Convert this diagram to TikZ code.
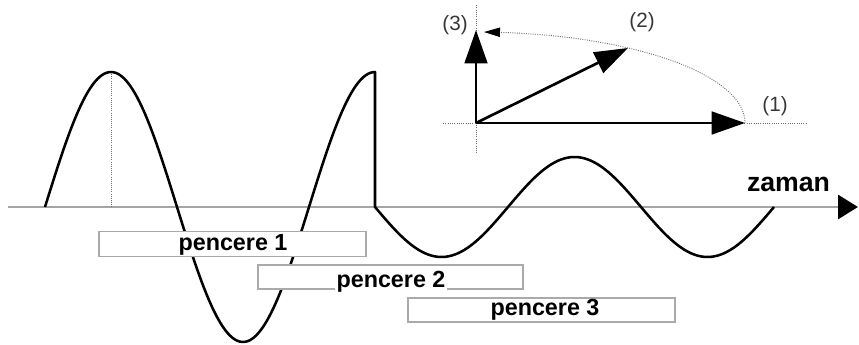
\documentclass[tikz,border=0pt]{standalone}
\usepackage{fontspec}
\setmainfont{Liberation Sans}
\usetikzlibrary{arrows.meta}
\definecolor{axisgray}{RGB}{165,165,165}
\definecolor{boxgray}{RGB}{170,170,170}
\definecolor{dotgray}{RGB}{110,110,110}
\definecolor{labelgray}{RGB}{55,55,55}
\tikzset{
  wave/.style={line width=1.9pt, black, line join=round},
  timeaxis/.style={line width=2.2pt, axisgray, -{Triangle[length=15pt,width=18pt,color=black]}},
  window/.style={draw=boxgray, line width=1.2pt, fill=white, inner sep=0pt, outer sep=0pt},
  wintext/.style={font=\bfseries\fontsize{17.5}{20}\selectfont, anchor=base, inner sep=0.8pt},
  vec/.style={line width=2pt, black, -{Triangle[length=25pt,width=17pt]}},
  guide/.style={dotgray, densely dotted, line width=0.7pt},
  plabel/.style={font=\fontsize{15.5}{18}\selectfont, text=labelgray, inner sep=0pt}
}
\begin{document}
\begin{tikzpicture}[x=0.75pt,y=-0.75pt]
\useasboundingbox (0,0) rectangle (859,345);
% time axis
\coordinate (A0) at (8,207);
\coordinate (A1) at (858,207);
\draw[timeaxis] (A0) -- (A1);
% dotted line at first peak
\coordinate (P0) at (111,72);
\coordinate (P0b) at (111,207);
\draw[guide, line width=0.6pt] (P0) -- (P0b);
% signal
\draw[wave] plot[domain=45:375,samples=140] ({\x},{207-135*sin((\x-45)/264*360)})
  -- (375,207)
  -- plot[domain=375:774,samples=160] ({\x},{207+50*sin((\x-375)/266*360)});
% windows
\node[window, minimum width=200.25pt, minimum height=19pt] (w1) at (232.5,244) {};
\node[window, minimum width=198.75pt, minimum height=18pt] (w2) at (390.5,277) {};
\node[window, minimum width=200.25pt, minimum height=18pt] (w3) at (541.5,310) {};
\node[wintext] (t1) at (233,250) {pencere 1};
\node[wintext, fill=white] (t2) at (391,287) {pencere 2};
\node[wintext] (t3) at (545,315) {pencere 3};
% time label
\node[font=\bfseries\fontsize{20}{24}\selectfont, anchor=base, inner sep=0pt] (z) at (788.5,191.5) {zaman};
% phasor diagram
\coordinate (O) at (476,123);
\coordinate (H0) at (443,123);
\coordinate (H1) at (807,123);
\coordinate (V0) at (476,5);
\coordinate (V1) at (476,153);
\draw[guide] (H0) -- (H1);
\draw[guide] (V0) -- (V1);
\coordinate (T1) at (745,123);
\coordinate (T2) at (628,48);
\coordinate (T3) at (476,30);
\draw[guide, -{Triangle[length=12pt,width=7pt,color=black]}]
  plot[domain=0:88.3,samples=80] ({476+269*cos(\x)},{123-91*sin(\x)});
\draw[vec] (O) -- (T1);
\draw[vec] (O) -- (T2);
\draw[vec] (O) -- (T3);
\node[plabel] (l1) at (775,106) {(1)};
\node[plabel] (l2) at (642,22) {(2)};
\node[plabel] (l3) at (455,25) {(3)};
\end{tikzpicture}
\end{document}
